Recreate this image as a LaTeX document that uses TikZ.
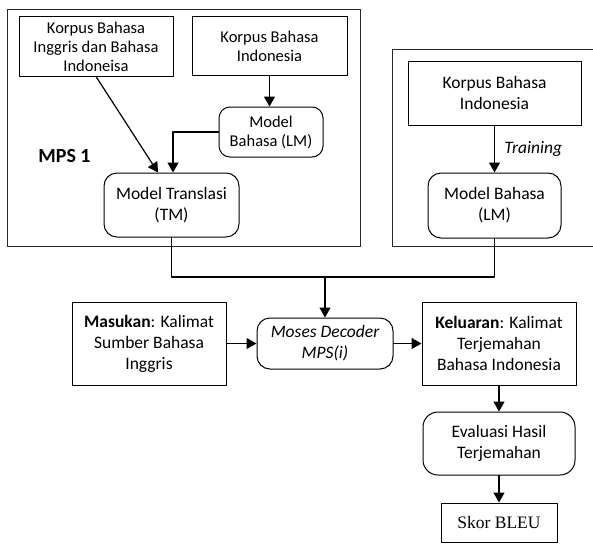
\documentclass[tikz,border=0pt]{standalone}
\usepackage{fontspec}
\setmainfont{Carlito}
\newfontfamily\serifskor{Liberation Serif}
\usepackage{tikz}
\usetikzlibrary{arrows.meta,calc}

\begin{document}
\begin{tikzpicture}[
  x=1pt, y=-1pt,
  >={Triangle[length=10pt,width=11pt]},
  line cap=round,
  line join=round,
  frame/.style={draw=black!85, line width=0.9pt},
  box/.style={draw, line width=1pt, align=center, inner sep=2pt,
              font=\fontsize{17.5}{21}\selectfont},
  rbox/.style={box, rounded corners=13pt},
  smalltxt/.style={font=\fontsize{16.5}{19}\selectfont},
  link/.style={line width=1.2pt}
]
  \useasboundingbox (0,0) rectangle (593,543);

  % MPS 1 frame
  \draw[frame] (7,9) rectangle (360,246);
  \node[font=\fontsize{20}{24}\selectfont\bfseries] (mps) at (64.5,156) {MPS 1};
  \node[box, smalltxt, minimum width=154pt, minimum height=59pt] (kbEn) at (96,46.5)
    {Korpus Bahasa\\Inggris dan Bahasa\\Indoneisa};
  \node[box, smalltxt, minimum width=155pt, minimum height=58pt] (kbIdL) at (269.5,46)
    {Korpus Bahasa\\Indonesia};
  \node[rbox, smalltxt, rounded corners=11pt, minimum width=104pt, minimum height=50pt] (lmL) at (271,132)
    {Model\\Bahasa (LM)};
  \node[rbox, minimum width=135pt, minimum height=64pt] (tm) at (171.5,205)
    {Model Translasi\\(TM)};

  \draw[link, ->] (kbEn.south) -- ([xshift=-13.5pt]tm.north);
  \draw[link, ->] (kbIdL.south) -- (kbIdL.south |- lmL.north);
  \draw[link, ->] (lmL.west) -| ([xshift=1.5pt]tm.north);

  % second frame (LM training)
  \draw[frame] (392,49) rectangle (598,246);
  \node[box, minimum width=173pt, minimum height=64pt] (kbIdR) at (494.5,93)
    {Korpus Bahasa\\Indonesia};
  \node[rbox, minimum width=133pt, minimum height=65pt] (lmR) at (494.5,205.5)
    {Model Bahasa\\(LM)};
  \draw[link, ->] (kbIdR.south) -- (lmR.north)
    node[midway, right=6pt, font=\fontsize{17.5}{21}\selectfont\itshape] (trn) {Training};

  % decoding
  \node[box, minimum width=154pt, minimum height=83pt] (masukan) at (149,343.5)
    {\textbf{Masukan}: Kalimat\\Sumber Bahasa\\Inggris};
  \node[rbox, minimum width=136pt, minimum height=51pt, font=\fontsize{17.5}{21}\selectfont\itshape] (moses) at (325,343.5)
    {Moses Decoder\\MPS(i)};
  \node[box, minimum width=154pt, minimum height=83pt] (keluaran) at (499,343.5)
    {\textbf{Keluaran}: Kalimat\\Terjemahan\\Bahasa Indonesia};
  \node[rbox, rounded corners=15pt, minimum width=152pt, minimum height=63pt] (eval) at (499,443.5)
    {Evaluasi Hasil\\Terjemahan};
  \node[box, minimum width=116pt, minimum height=39pt, font=\fontsize{17.5}{21}\serifskor] (skor) at (499,522.5)
    {Skor BLEU};

  \coordinate (join) at (325,277);
  \draw[link] (tm.south) |- (join) -| (lmR.south);
  \draw[link, ->] (join) -- (moses.north);
  \draw[link, ->] (masukan.east) -- (moses.west);
  \draw[link, ->] (moses.east) -- (keluaran.west);
  \draw[link, ->] (keluaran.south) -- (eval.north);
  \draw[link, ->] (eval.south) -- (skor.north);
\end{tikzpicture}
\end{document}
